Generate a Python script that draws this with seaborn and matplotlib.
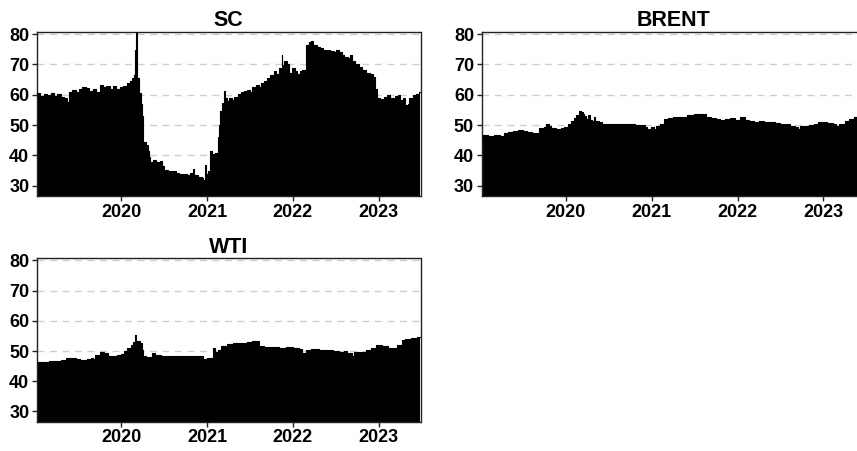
import matplotlib
matplotlib.use("Agg")
import matplotlib.pyplot as plt
import matplotlib.dates as mdates
import pandas as pd
import seaborn as sns

# ---- price index series (date of change, level) ----
sc_dates = [
    "2019-01-08", "2019-01-22", "2019-02-06", "2019-02-21", "2019-03-07", "2019-03-21",
    "2019-04-05", "2019-04-19", "2019-05-05", "2019-05-15", "2019-05-23", "2019-06-07",
    "2019-06-21", "2019-07-06", "2019-07-20", "2019-08-04", "2019-08-18", "2019-09-02",
    "2019-09-16", "2019-10-01", "2019-10-15", "2019-10-30", "2019-11-13", "2019-11-28",
    "2019-12-12", "2019-12-27", "2020-01-11", "2020-01-26", "2020-02-06", "2020-02-17",
    "2020-02-24", "2020-03-01", "2020-03-06", "2020-03-09", "2020-03-17", "2020-03-25",
    "2020-03-30", "2020-04-05", "2020-04-16", "2020-04-23", "2020-04-27", "2020-05-05",
    "2020-05-15", "2020-05-30", "2020-06-13", "2020-06-24", "2020-07-02", "2020-07-20",
    "2020-08-08", "2020-08-22", "2020-09-02", "2020-09-20", "2020-10-09", "2020-10-20",
    "2020-10-31", "2020-11-07", "2020-11-25", "2020-12-09", "2020-12-16", "2020-12-22",
    "2020-12-28", "2021-01-04", "2021-01-11", "2021-01-15", "2021-01-22", "2021-02-02",
    "2021-02-10", "2021-02-17", "2021-02-20", "2021-02-26", "2021-03-05", "2021-03-14",
    "2021-03-18", "2021-03-25", "2021-04-05", "2021-04-16", "2021-04-27", "2021-05-12",
    "2021-05-26", "2021-06-06", "2021-06-21", "2021-07-02", "2021-07-13", "2021-07-28",
    "2021-08-08", "2021-08-19", "2021-09-02", "2021-09-13", "2021-09-20", "2021-09-27",
    "2021-10-12", "2021-10-23", "2021-11-03", "2021-11-14", "2021-11-17", "2021-11-25",
    "2021-12-06", "2021-12-17", "2021-12-28", "2022-01-08", "2022-01-19", "2022-01-30",
    "2022-02-10", "2022-02-21", "2022-02-27", "2022-03-10", "2022-03-19", "2022-03-28",
    "2022-04-12", "2022-04-26", "2022-05-11", "2022-05-26", "2022-06-09", "2022-06-24",
    "2022-07-05", "2022-07-16", "2022-07-27", "2022-08-08", "2022-08-22", "2022-09-02",
    "2022-09-09", "2022-09-24", "2022-10-08", "2022-10-23", "2022-11-06", "2022-11-25",
    "2022-12-09", "2022-12-16", "2022-12-23", "2023-01-08", "2023-01-22", "2023-02-06",
    "2023-02-17", "2023-02-28", "2023-03-10", "2023-03-23", "2023-04-02", "2023-04-13",
    "2023-04-24", "2023-05-05", "2023-05-12", "2023-05-26", "2023-06-10", "2023-06-21",
]
sc_values = [
    60.5, 59.5, 60.3, 59.8, 60.5, 59.6,
    60.2, 59.4, 58.8, 57.6, 60.8, 61.5,
    61.0, 62.0, 62.7, 62.2, 61.3, 61.8,
    60.8, 63.2, 62.6, 62.9, 62.0, 62.8,
    61.8, 62.4, 63.0, 63.8, 64.5, 65.5,
    66.6, 74.8, 81.0, 65.5, 60.5, 57.0,
    53.0, 44.5, 43.5, 41.3, 39.5, 37.8,
    38.5, 37.9, 38.3, 36.5, 35.2, 35.0,
    34.7, 34.3, 33.8, 34.0, 33.6, 34.2,
    35.6, 33.5, 33.0, 32.5, 32.0, 36.9,
    33.8, 35.0, 34.5, 41.3, 40.5, 40.8,
    35.8, 46.0, 50.0, 54.5, 57.2, 61.1,
    58.9, 57.8, 58.9, 58.2, 59.4, 60.2,
    60.8, 61.1, 61.6, 61.0, 62.7, 63.3,
    62.6, 64.0, 64.4, 65.5, 64.8, 66.6,
    67.7, 67.0, 68.8, 73.2, 69.9, 71.0,
    70.0, 67.1, 68.8, 67.7, 67.0, 67.8,
    68.2, 67.5, 76.5, 77.3, 77.8, 76.5,
    75.9, 75.4, 74.8, 74.6, 74.3, 74.0,
    74.8, 74.2, 73.2, 72.4, 72.0, 73.0,
    71.0, 70.0, 69.3, 68.0, 67.1, 66.8,
    66.0, 62.0, 58.9, 58.5, 59.2, 59.8,
    59.0, 58.9, 59.5, 60.0, 58.4, 59.0,
    56.7, 56.9, 59.0, 60.0, 60.3, 60.8,
]

brent_dates = [
    "2019-01-08", "2019-01-15", "2019-02-05", "2019-03-01", "2019-03-25", "2019-04-15",
    "2019-05-01", "2019-05-20", "2019-06-10", "2019-07-01", "2019-07-20", "2019-08-10",
    "2019-08-25", "2019-09-05", "2019-09-10", "2019-10-01", "2019-10-08", "2019-10-20",
    "2019-11-01", "2019-11-20", "2019-12-10", "2019-12-25", "2020-01-10", "2020-01-25",
    "2020-02-05", "2020-02-15", "2020-02-25", "2020-03-05", "2020-03-12", "2020-03-20",
    "2020-03-28", "2020-04-05", "2020-04-12", "2020-04-20", "2020-04-28", "2020-05-05",
    "2020-05-20", "2020-06-05", "2020-07-01", "2020-08-01", "2020-09-01", "2020-10-01",
    "2020-10-20", "2020-11-15", "2020-12-01", "2020-12-10", "2020-12-28", "2021-01-10",
    "2021-01-20", "2021-02-05", "2021-02-20", "2021-03-10", "2021-04-01", "2021-05-01",
    "2021-06-01", "2021-07-01", "2021-07-20", "2021-08-05", "2021-08-20", "2021-09-10",
    "2021-10-01", "2021-10-20", "2021-11-10", "2021-12-01", "2021-12-20", "2022-01-10",
    "2022-02-01", "2022-02-20", "2022-03-10", "2022-04-01", "2022-04-25", "2022-05-20",
    "2022-06-10", "2022-07-01", "2022-07-20", "2022-08-10", "2022-09-01", "2022-09-15",
    "2022-09-25", "2022-10-15", "2022-11-01", "2022-11-20", "2022-12-10", "2022-12-25",
    "2023-01-15", "2023-02-10", "2023-02-25", "2023-03-10", "2023-04-01", "2023-04-20",
    "2023-05-10", "2023-05-25", "2023-06-15",
]
brent_values = [
    46.2, 46.6, 46.4, 46.6, 46.5, 47.3,
    47.8, 48.2, 48.3, 48.0, 47.6, 47.3,
    47.4, 47.2, 48.9, 49.5, 50.2, 49.6,
    49.0, 48.6, 48.9, 49.5, 50.5, 51.3,
    52.2, 53.3, 54.8, 54.3, 53.5, 53.0,
    52.0, 53.2, 51.7, 51.5, 52.8, 51.4,
    51.0, 50.5, 50.5, 50.5, 50.4, 50.2,
    50.0, 49.9, 49.5, 48.6, 49.2, 48.8,
    49.7, 50.3, 52.0, 52.2, 52.5, 52.7,
    53.2, 53.6, 53.8, 53.5, 52.6, 52.2,
    52.0, 51.8, 52.0, 52.2, 51.7, 52.5,
    51.8, 51.3, 51.0, 51.3, 51.0, 50.9,
    50.6, 50.5, 50.2, 49.7, 49.4, 48.8,
    49.6, 49.6, 50.0, 50.5, 51.1, 50.9,
    50.8, 50.5, 49.8, 50.5, 51.3, 52.0,
    52.5, 53.0, 53.5,
]

wti_dates = [
    "2019-01-08", "2019-02-01", "2019-03-01", "2019-04-01", "2019-04-20", "2019-05-10",
    "2019-06-01", "2019-06-25", "2019-07-10", "2019-07-25", "2019-08-10", "2019-08-25",
    "2019-09-05", "2019-09-12", "2019-10-05", "2019-10-20", "2019-11-05", "2019-11-25",
    "2019-12-15", "2019-12-30", "2020-01-15", "2020-01-28", "2020-02-10", "2020-02-22",
    "2020-03-01", "2020-03-06", "2020-03-20", "2020-03-28", "2020-04-05", "2020-04-15",
    "2020-04-22", "2020-05-10", "2020-05-25", "2020-06-20", "2020-12-05", "2020-12-15",
    "2020-12-30", "2021-01-20", "2021-01-27", "2021-02-05", "2021-02-15", "2021-03-01",
    "2021-03-25", "2021-04-20", "2021-05-20", "2021-06-20", "2021-07-10", "2021-07-25",
    "2021-08-10", "2021-09-01", "2021-10-01", "2021-11-01", "2021-12-01", "2022-01-01",
    "2022-01-25", "2022-02-10", "2022-02-25", "2022-03-20", "2022-04-20", "2022-05-20",
    "2022-06-20", "2022-07-15", "2022-08-05", "2022-08-20", "2022-09-08", "2022-09-20",
    "2022-10-15", "2022-11-10", "2022-12-01", "2022-12-20", "2023-01-15", "2023-02-10",
    "2023-03-01", "2023-03-20", "2023-04-10", "2023-04-25", "2023-05-20", "2023-06-15",
]
wti_values = [
    46.4, 46.5, 46.7, 46.6, 47.1, 47.6,
    47.7, 47.3, 47.0, 46.9, 47.4, 47.7,
    47.5, 48.8, 49.6, 49.2, 48.5, 48.4,
    48.7, 49.1, 50.1, 51.0, 52.0, 53.0,
    55.2, 53.2, 52.6, 50.5, 48.3, 45.5,
    48.0, 49.3, 48.8, 48.5, 48.5, 47.2,
    47.6, 47.8, 51.0, 49.8, 50.4, 51.8,
    52.2, 52.6, 52.8, 53.0, 53.4, 53.2,
    51.5, 51.3, 51.2, 51.0, 51.3, 51.0,
    50.7, 49.4, 50.3, 50.6, 50.4, 50.2,
    49.9, 49.7, 49.9, 49.5, 48.2, 49.6,
    49.8, 50.2, 51.0, 52.0, 51.5, 51.0,
    51.0, 52.0, 53.5, 54.0, 54.3, 54.5,
]

series_names = ["SC", "BRENT", "WTI"]
start_date = "2019-01-08"
end_date = "2023-06-28"
y_ticks = [30, 40, 50, 60, 70, 80]

sns.set_theme(style="white")
plt.rcParams["font.family"] = ["Liberation Sans", "DejaVu Sans"]
plt.rcParams["font.weight"] = "bold"
for key in ("text.color", "axes.labelcolor", "xtick.color", "ytick.color"):
    plt.rcParams[key] = "black"

frames = []
for name, d, v in zip(series_names,
                      [sc_dates, brent_dates, wti_dates],
                      [sc_values, brent_values, wti_values]):
    # repeat the last level up to the end of the sample so the step runs to the edge
    frames.append(pd.DataFrame({"date": pd.to_datetime(d + [end_date]),
                                "value": v + [v[-1]],
                                "series": name}))
data = pd.concat(frames, ignore_index=True)

fig = plt.figure(figsize=(8.57, 4.51), dpi=100)
W, H = 857, 451
# panel boxes in pixels: left, top, width, height
boxes = {
    "SC":    (37, 32, 383.5, 164),
    "BRENT": (481.7, 32, 383.5, 164),
    "WTI":   (37, 258.3, 383.5, 163.4),
}

for name in series_names:
    x0, y0, w, h = boxes[name]
    ax = fig.add_axes([x0 / W, 1 - (y0 + h) / H, w / W, h / H])
    sub = data[data["series"] == name]

    ax.grid(False)
    for t in y_ticks[1:]:
        ax.axhline(t, color="#cfcfcf", lw=1.0, ls=(0, (5, 4)), zorder=0)

    ax.fill_between(sub["date"], sub["value"], 0, step="post",
                    color="black", lw=0, zorder=2)
    sns.lineplot(data=sub, x="date", y="value", ax=ax, color="black",
                 lw=0.8, drawstyle="steps-post", zorder=3, legend=False)

    ax.set_xlim(pd.Timestamp(start_date), pd.Timestamp(end_date))
    ax.set_ylim(26.6, 80.7)
    ax.set_yticks(y_ticks)
    ax.xaxis.set_major_locator(mdates.YearLocator())
    ax.xaxis.set_major_formatter(mdates.DateFormatter("%Y"))
    ax.set_xlabel("")
    ax.set_ylabel("")
    ax.set_title(name, fontsize=15.5, fontweight="bold", pad=4, color="black")
    ax.tick_params(axis="both", which="major", labelsize=13, length=3.5,
                   width=1, color="#222222", labelcolor="black", pad=2,
                   direction="out", bottom=True, left=True)
    for lab in ax.get_xticklabels() + ax.get_yticklabels():
        lab.set_fontweight("bold")
    for sp in ax.spines.values():
        sp.set_visible(True)
        sp.set_color("#222222")
        sp.set_linewidth(1.0)

fig.savefig("out.png", dpi=100)
